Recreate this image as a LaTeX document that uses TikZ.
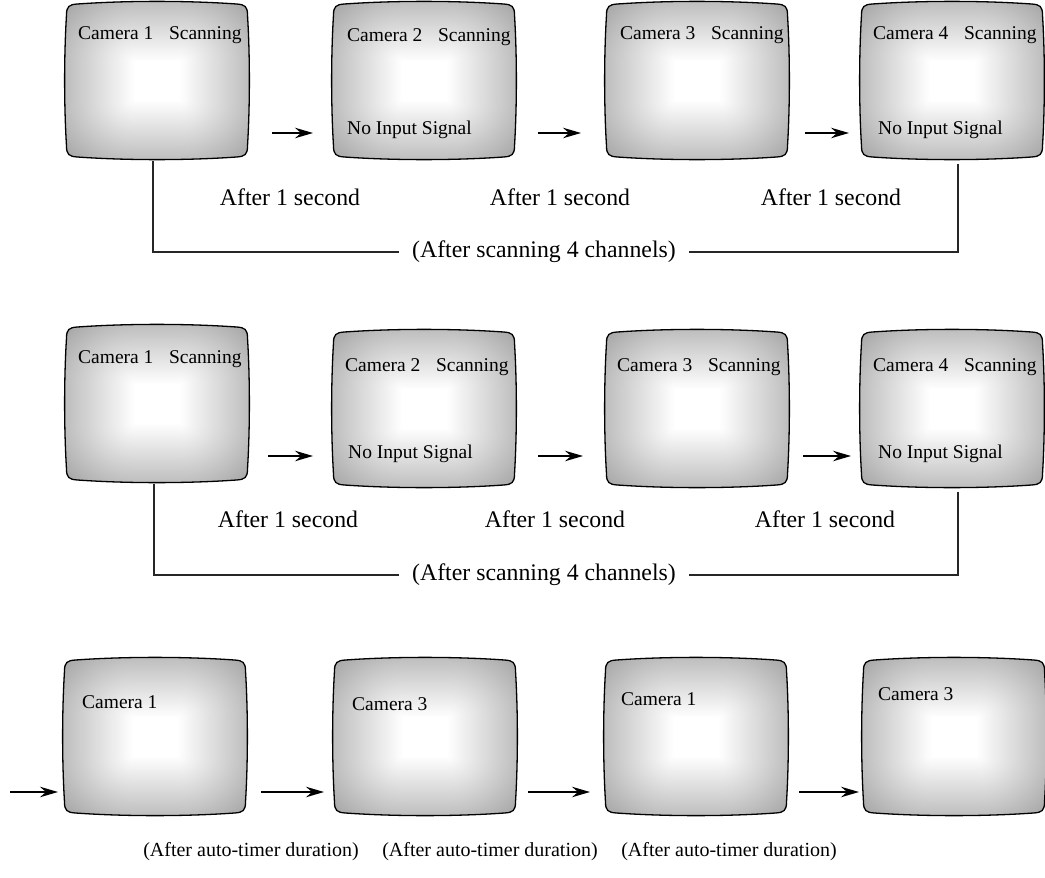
\documentclass[tikz,border=0pt]{standalone}
\usepackage{fontspec}
\setmainfont{Liberation Serif}
\usetikzlibrary{arrows.meta}

% soft white centre, grey rim
\pgfdeclarefunctionalshading{screenglow}{\pgfpoint{-50bp}{-50bp}}{\pgfpoint{50bp}{50bp}}{}{
  abs 6 sub dup abs add 2 div 19 div dup mul
  exch abs 6 sub dup abs add 2 div 19 div dup mul
  add sqrt 0.26 mul 1 exch sub dup dup
}

\tikzset{
  screen text/.style={font=\fontsize{19.5}{22}\selectfont, anchor=west},
  step label/.style={font=\fontsize{23.8}{26}\selectfont},
  timer label/.style={font=\fontsize{20}{22}\selectfont},
  flow/.style={-{Stealth[length=18pt,width=10.5pt,inset=6pt]}, line width=1.5pt},
  link/.style={line width=1.1pt, black!85},
}

% monitor: name, centre x, centre y
\newcommand{\tvscreen}[3]{%
  \node[minimum width=181pt, minimum height=158pt] (#1) at (#2,#3) {};
  \begin{scope}[shift={(#2,#3)}]
    \shade[shading=screenglow, draw=black, line width=1.3pt]
      (-79.5,-76.5) .. controls (-30,-80) and (30,-80) .. (79.5,-76.5)
      .. controls (88,-76) and (90.5,-74) .. (90.5,-65.5)
      .. controls (93,-25) and (93,25) .. (90.5,65.5)
      .. controls (90.5,74) and (88,76) .. (79.5,76.5)
      .. controls (30,80) and (-30,80) .. (-79.5,76.5)
      .. controls (-88,76) and (-90.5,74) .. (-90.5,65.5)
      .. controls (-93,25) and (-93,-25) .. (-90.5,-65.5)
      .. controls (-90.5,-74) and (-88,-76) .. cycle;
  \end{scope}}

\begin{document}
\begin{tikzpicture}[x=1pt, y=-1pt]
\tikzstyle{every node}+=[inner sep=0pt]
\useasboundingbox (0,0) rectangle (1045,878);

% first sequence
\tvscreen{s11}{157}{80.5}
\tvscreen{s12}{424}{80.5}
\tvscreen{s13}{697}{80.5}
\tvscreen{s14}{952}{80.5}
\node[screen text] (h11) at (78,35) {Camera 1\hspace{0.8em}Scanning};
\node[screen text] (h12) at (347,37) {Camera 2\hspace{0.8em}Scanning};
\node[screen text] (h13) at (620,35) {Camera 3\hspace{0.8em}Scanning};
\node[screen text] (h14) at (873,35) {Camera 4\hspace{0.8em}Scanning};
\node[screen text] (n12) at (347,130) {No Input Signal};
\node[screen text] (n14) at (878,130) {No Input Signal};
\coordinate (a11) at (272,133); \coordinate (b11) at (313,133);
\coordinate (a12) at (538,133); \coordinate (b12) at (581,133);
\coordinate (a13) at (805,133); \coordinate (b13) at (849,133);
\draw[flow] (a11) -- (b11);
\draw[flow] (a12) -- (b12);
\draw[flow] (a13) -- (b13);
\node[step label] (t11) at (290,197) {After 1 second};
\node[step label] (t12) at (560,197) {After 1 second};
\node[step label] (t13) at (831,197) {After 1 second};
\node[step label, inner xsep=13pt] (c1) at (544,252) {(After scanning 4 channels)};
\draw[link] ([xshift=-4pt,yshift=-1pt]s11.south) |- (c1.west);
\draw[link] ([xshift=6pt,yshift=-4pt]s14.south) |- (c1.east);

% second sequence
\tvscreen{s21}{157}{403.5}
\tvscreen{s22}{424}{408.5}
\tvscreen{s23}{697}{408.5}
\tvscreen{s24}{952}{408.5}
\node[screen text] (h21) at (78,359) {Camera 1\hspace{0.8em}Scanning};
\node[screen text] (h22) at (345,367) {Camera 2\hspace{0.8em}Scanning};
\node[screen text] (h23) at (617,367) {Camera 3\hspace{0.8em}Scanning};
\node[screen text] (h24) at (873,367) {Camera 4\hspace{0.8em}Scanning};
\node[screen text] (n22) at (348,454) {No Input Signal};
\node[screen text] (n24) at (878,454) {No Input Signal};
\coordinate (a21) at (268,456); \coordinate (b21) at (313,456);
\coordinate (a22) at (538,456); \coordinate (b22) at (583,456);
\coordinate (a23) at (803,456); \coordinate (b23) at (851,456);
\draw[flow] (a21) -- (b21);
\draw[flow] (a22) -- (b22);
\draw[flow] (a23) -- (b23);
\node[step label] (t21) at (288,519) {After 1 second};
\node[step label] (t22) at (555,519) {After 1 second};
\node[step label] (t23) at (825,519) {After 1 second};
\node[step label, inner xsep=13pt] (c2) at (544,575) {(After scanning 4 channels)};
\draw[link] ([xshift=-3pt,yshift=-1pt]s21.south) |- (c2.west);
\draw[link] ([xshift=6pt,yshift=-4pt]s24.south) |- (c2.east);

% auto-timer sequence
\tvscreen{s31}{155}{736.5}
\tvscreen{s32}{425}{736.5}
\tvscreen{s33}{696}{736.5}
\tvscreen{s34}{954}{736.5}
\node[screen text] (h31) at (82,702) {Camera 1};
\node[screen text] (h32) at (352,704) {Camera 3};
\node[screen text] (h33) at (621,699) {Camera 1};
\node[screen text] (h34) at (878,694) {Camera 3};
\coordinate (a30) at (10,792);  \coordinate (b30) at (58,792);
\coordinate (a31) at (261,792); \coordinate (b31) at (324,792);
\coordinate (a32) at (528,792); \coordinate (b32) at (590,792);
\coordinate (a33) at (799,792); \coordinate (b33) at (859,792);
\draw[flow] (a30) -- (b30);
\draw[flow] (a31) -- (b31);
\draw[flow] (a32) -- (b32);
\draw[flow] (a33) -- (b33);
\node[timer label] (d1) at (251,852) {(After auto-timer duration)};
\node[timer label] (d2) at (490,852) {(After auto-timer duration)};
\node[timer label] (d3) at (729,852) {(After auto-timer duration)};
\end{tikzpicture}
\end{document}
